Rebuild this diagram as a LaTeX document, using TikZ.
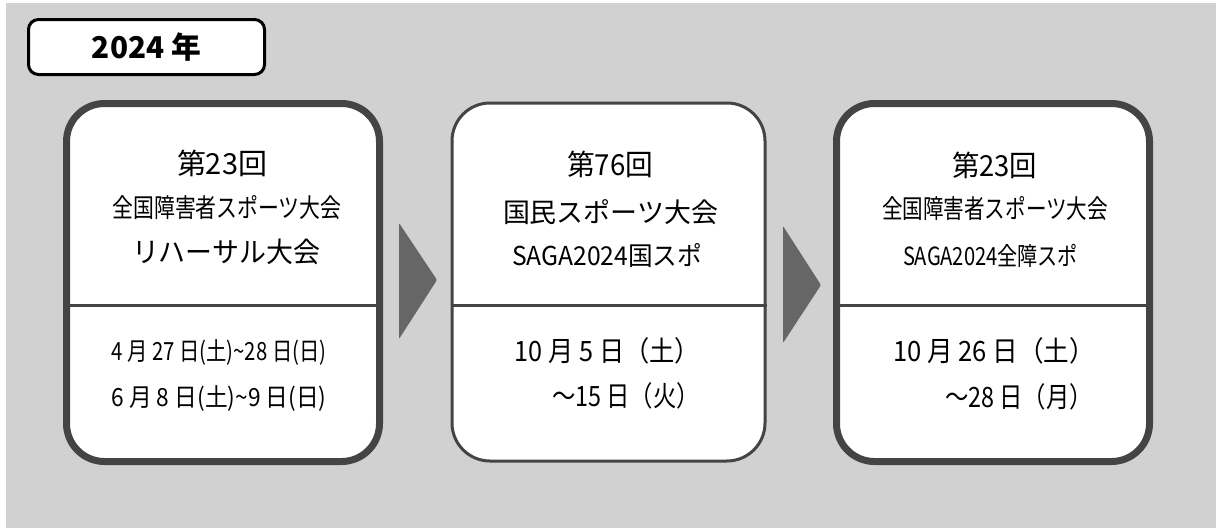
\documentclass[tikz,border=0pt]{standalone}
\usepackage{fontspec}
\setmainfont{Noto Sans CJK JP}
\usepackage{graphicx}
\definecolor{bggray}{HTML}{D1D1D1}
\definecolor{framegray}{HTML}{444444}
\definecolor{arrowgray}{HTML}{666666}
\newcommand{\fitline}[3]{{\fontsize{#2}{#2}\selectfont\resizebox{#1}{\height}{#3}}}
\tikzset{
  panel/.style={draw=framegray, fill=white, rounded corners=38pt, minimum width=313pt, minimum height=358pt, inner sep=0pt},
  yearbox/.style={draw=black, fill=white, line width=3pt, rounded corners=10pt, minimum width=236pt, minimum height=55pt, inner sep=0pt},
  divider/.style={draw=framegray, line width=3pt},
  stepmark/.style={fill=arrowgray, rounded corners=1pt},
  txt/.style={inner sep=0pt}
}
\begin{document}
\begin{tikzpicture}[x=1pt,y=-1pt]
\useasboundingbox (0,0) rectangle (1216,528);
\fill[bggray] (6,3) rectangle (1216,528);
%
\node[yearbox] (year) at (146.5,47) {\fitline{109pt}{30pt}{\bfseries 2024 年}};
%
\node[panel, line width=7pt] (p1) at (223,282.5) {};
\node[panel, line width=3pt] (p2) at (608.5,282) {};
\node[panel, line width=7pt] (p3) at (993,282.5) {};
\draw[divider] (p1.west |- 0,305) -- (p1.east |- 0,305);
\draw[divider] (p2.west |- 0,305) -- (p2.east |- 0,305);
\draw[divider] (p3.west |- 0,305) -- (p3.east |- 0,305);
%
\fill[stepmark] (399,223) -- (437,280) -- (399,339) -- cycle;
\fill[stepmark] (783,226) -- (821,285) -- (783,343) -- cycle;
%
\node[txt] (p1a) at (222,163) {\fitline{90pt}{29pt}{第23回}};
\node[txt] (p1b) at (227,208) {\fitline{229pt}{26pt}{全国障害者スポーツ大会}};
\node[txt] (p1c) at (226,252) {\fitline{188pt}{28pt}{リハーサル大会}};
\node[txt] (p1d) at (219,352) {\fitline{215pt}{25pt}{4 月 27 日(土)\textasciitilde 28 日(日)}};
\node[txt] (p1e) at (219,398) {\fitline{215pt}{25pt}{6 月 8 日(土)\textasciitilde 9 日(日)}};
%
\node[txt] (p2a) at (610,164) {\fitline{86pt}{29pt}{第76回}};
\node[txt] (p2b) at (610.5,212) {\fitline{215pt}{27pt}{国民スポーツ大会}};
\node[txt] (p2c) at (607,255) {\fitline{190pt}{26pt}{SAGA2024国スポ}};
\node[txt] (p2d) at (607.5,351) {\fitline{185pt}{28pt}{10 月 5 日（土）}};
\node[txt] (p2e) at (626,396) {\fitline{148pt}{28pt}{～15 日（火）}};
%
\node[txt] (p3a) at (994.5,165) {\fitline{85pt}{29pt}{第23回}};
\node[txt] (p3b) at (995,209) {\fitline{226pt}{26pt}{全国障害者スポーツ大会}};
\node[txt] (p3c) at (990.5,256) {\fitline{175pt}{25pt}{SAGA2024全障スポ}};
\node[txt] (p3d) at (994,351) {\fitline{202pt}{28pt}{10 月 26 日（土）}};
\node[txt] (p3e) at (1019,397) {\fitline{148pt}{28pt}{～28 日（月）}};
\end{tikzpicture}
\end{document}
